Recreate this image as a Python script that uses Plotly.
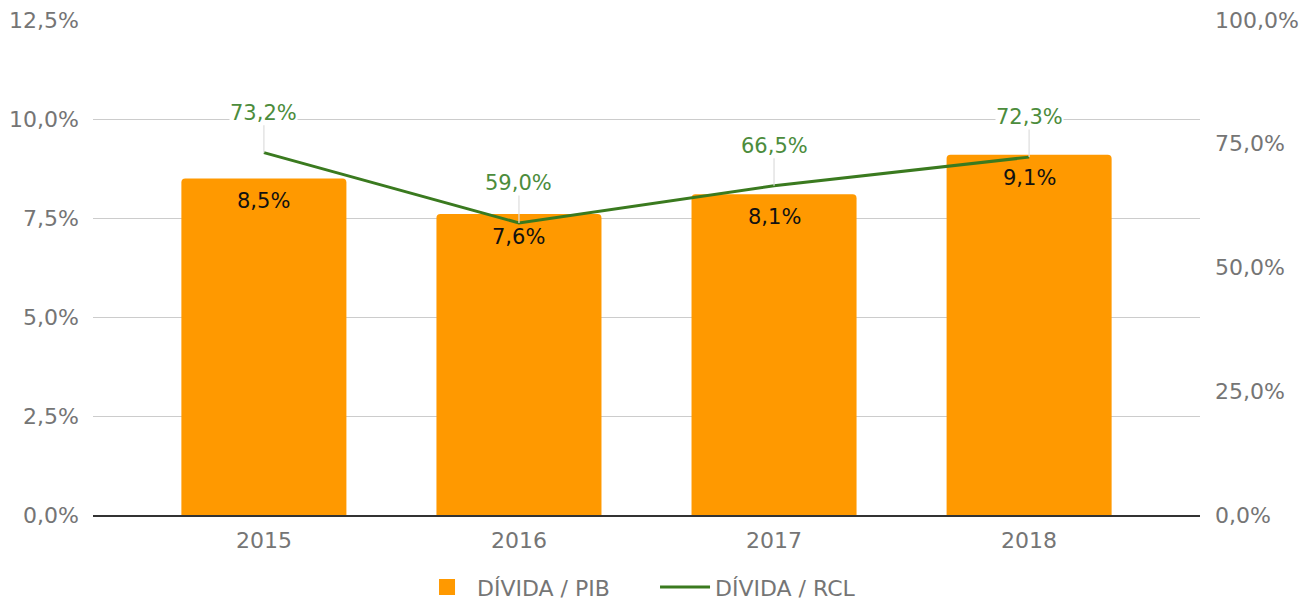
import plotly.graph_objects as go

years = ["2015", "2016", "2017", "2018"]
divida_pib = [8.5, 7.6, 8.1, 9.1]
divida_rcl = [73.2, 59.0, 66.5, 72.3]
left_ticks = [0, 2.5, 5.0, 7.5, 10.0, 12.5]
right_ticks = [0, 25, 50, 75, 100]

def fmt(v):
    return f"{v:.1f}".replace(".", ",") + "%"

FONT = "DejaVu Sans, Roboto, Arial, sans-serif"
fig = go.Figure()
fig.add_trace(go.Bar(
    x=years, y=divida_pib, name="DÍVIDA / PIB",
    marker=dict(color="#ff9900", cornerradius=4, line=dict(width=0)),
    yaxis="y", showlegend=False,
))
fig.add_trace(go.Scatter(
    x=[None], y=[None], name="DÍVIDA / PIB", mode="markers",
    marker=dict(color="#ff9900", symbol="square", size=24), yaxis="y",
))
fig.add_trace(go.Scatter(
    x=years, y=divida_rcl, name="DÍVIDA / RCL", mode="lines",
    line=dict(color="#3a7a1f", width=3), yaxis="y2",
))

annotations = []
for i, v in enumerate(divida_pib):
    annotations.append(dict(x=i, y=v, xref="x", yref="y", text=fmt(v), showarrow=False,
                            yshift=-23, font=dict(family=FONT, size=21, color="#111111")))
for i, v in enumerate(divida_rcl):
    annotations.append(dict(x=i, y=v, xref="x", yref="y2", text=fmt(v), showarrow=True,
                            arrowhead=0, arrowwidth=1.2, arrowcolor="#dddddd", ax=0, ay=-40,
                            standoff=0, bgcolor="rgba(255,255,255,1)", borderpad=0,
                            font=dict(family=FONT, size=21, color="#4c8c3c")))

fig.update_layout(
    width=1307, height=593,
    margin=dict(l=85, r=115, t=12, b=86, autoexpand=False),
    paper_bgcolor="white", plot_bgcolor="white",
    separators=",.",
    bargap=0.353,
    font=dict(family=FONT, size=21, color="#757575"),
    xaxis=dict(type="category", range=[-0.67, 3.67], showgrid=False, showline=True,
               linecolor="#333333", linewidth=1.5,
               tickfont=dict(size=22, color="#757575"), ticks="", ticklabelstandoff=5),
    yaxis=dict(range=[0, 12.5], tickvals=left_ticks, ticktext=[fmt(v) for v in left_ticks],
               showgrid=True, gridcolor="#cccccc", gridwidth=1, zeroline=False,
               ticklabeloverflow="allow",
               tickfont=dict(size=22, color="#757575"), ticklabelstandoff=13),
    yaxis2=dict(range=[0, 100], tickvals=right_ticks, ticktext=[fmt(v) for v in right_ticks],
                overlaying="y", side="right", showgrid=False, zeroline=False,
                ticklabeloverflow="allow",
                tickfont=dict(size=22, color="#757575"), ticklabelstandoff=14),
    legend=dict(orientation="h", x=0.5077, xanchor="center", y=-0.146, yanchor="middle",
                font=dict(size=22, color="#757575"), itemwidth=50, entrywidth=173),
    showlegend=True,
    annotations=annotations,
)
fig.write_html("out.html")
